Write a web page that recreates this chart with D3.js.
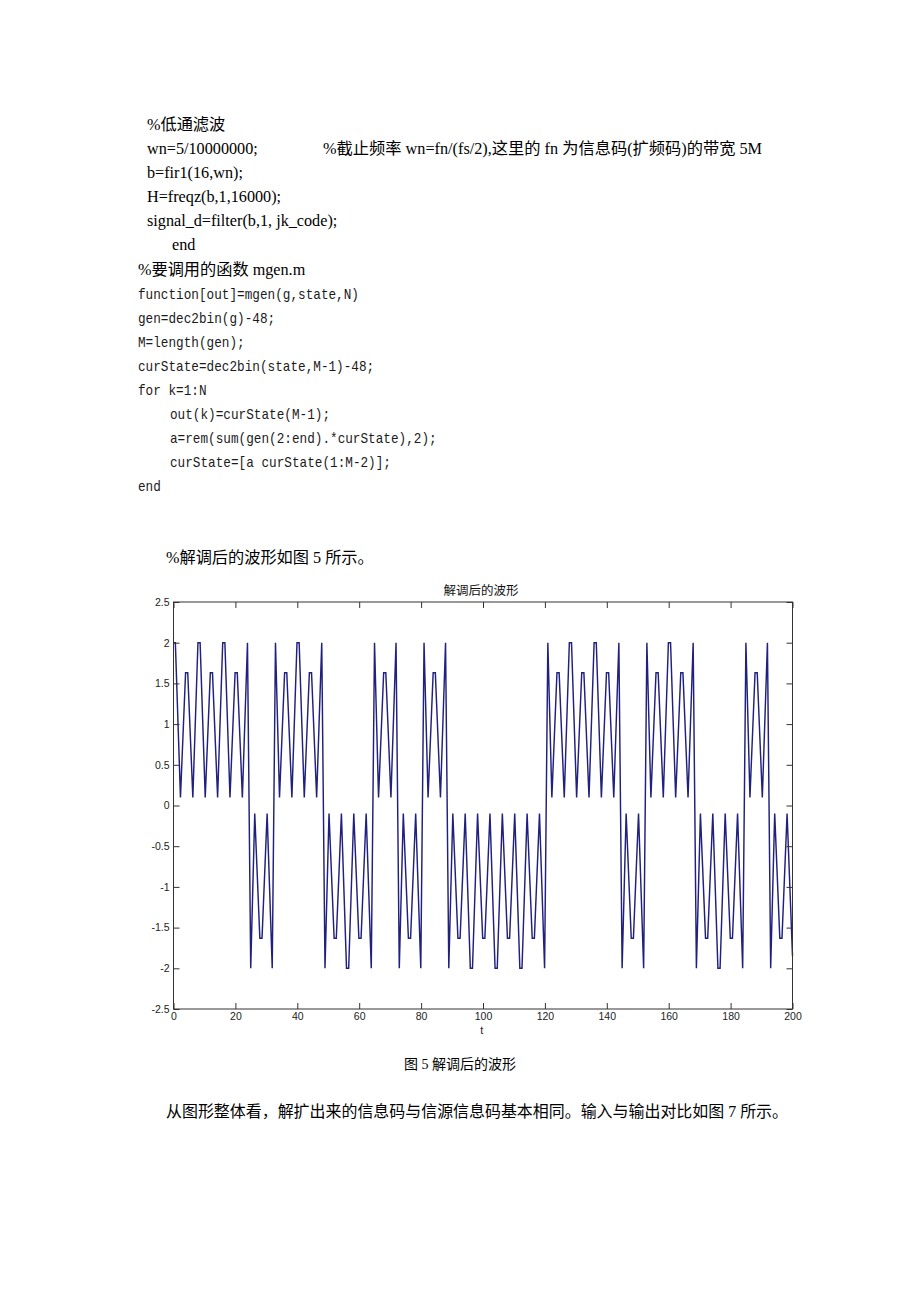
<!DOCTYPE html>
<html>
<head>
<meta charset="utf-8">
<script src="https://cdn.jsdelivr.net/npm/d3@7"></script>
<style>
  body { margin: 0; background: #fff; }
  svg { display: block; }
  .serif { font-family: "Liberation Serif", "Noto Sans CJK SC", serif; font-size: 16.2px; fill: #000; }
  .mono { font-family: "Liberation Mono", "Noto Sans CJK SC", monospace; font-size: 14.2px; fill: #1a1a1a; }
  .cap { font-family: "Liberation Serif", "Noto Sans CJK SC", serif; font-size: 14px; fill: #000; }
  .tick text { font-family: "Liberation Sans", Arial, sans-serif; font-size: 10.5px; fill: #222; }
</style>
</head>
<body>
<svg id="page" width="920" height="1302"></svg>
<script>
// ---------------- data ----------------
const chartTitle = "解调后的波形";
const xLabel = "t";
const xTicks = [0, 20, 40, 60, 80, 100, 120, 140, 160, 180, 200];
const yTicks = [-2.5, -2, -1.5, -1, -0.5, 0, 0.5, 1, 1.5, 2, 2.5];
const xDomain = [0, 200];
const yDomain = [-2.5, 2.5];
// demodulated waveform vertices [t, value]
const wavePoints = [
  [0,2],[0.6,2],[2.25,0.1],
  [3.9,1.63],[4.6,1.63],[6.25,0.1],
  [7.9,2],[8.6,2],[10.25,0.1],
  [11.9,1.63],[12.6,1.63],[14.25,0.1],
  [15.9,2],[16.6,2],[18.25,0.1],
  [19.9,1.63],[20.6,1.63],[22.25,0.1],
  [23.9,2],[24.95,-2],[26.25,-0.1],
  [27.9,-1.63],[28.6,-1.63],[30.25,-0.1],
  [31.9,-2],[32.95,2],[34.25,0.1],
  [35.9,1.63],[36.6,1.63],[38.25,0.1],
  [39.9,2],[40.6,2],[42.25,0.1],
  [43.9,1.63],[44.6,1.63],[46.25,0.1],
  [47.9,2],[48.95,-2],[50.25,-0.1],
  [51.9,-1.63],[52.6,-1.63],[54.25,-0.1],
  [55.9,-2],[56.6,-2],[58.25,-0.1],
  [59.9,-1.63],[60.6,-1.63],[62.25,-0.1],
  [63.9,-2],[64.95,2],[66.25,0.1],
  [67.9,1.63],[68.6,1.63],[70.25,0.1],
  [71.9,2],[72.95,-2],[74.25,-0.1],
  [75.9,-1.63],[76.6,-1.63],[78.25,-0.1],
  [79.9,-2],[80.95,2],[82.25,0.1],
  [83.9,1.63],[84.6,1.63],[86.25,0.1],
  [87.9,2],[88.95,-2],[90.25,-0.1],
  [91.9,-1.63],[92.6,-1.63],[94.25,-0.1],
  [95.9,-2],[96.6,-2],[98.25,-0.1],
  [99.9,-1.63],[100.6,-1.63],[102.25,-0.1],
  [103.9,-2],[104.6,-2],[106.25,-0.1],
  [107.9,-1.63],[108.6,-1.63],[110.25,-0.1],
  [111.9,-2],[112.6,-2],[114.25,-0.1],
  [115.9,-1.63],[116.6,-1.63],[118.25,-0.1],
  [119.9,-2],[120.95,2],[122.25,0.1],
  [123.9,1.63],[124.6,1.63],[126.25,0.1],
  [127.9,2],[128.6,2],[130.25,0.1],
  [131.9,1.63],[132.6,1.63],[134.25,0.1],
  [135.9,2],[136.6,2],[138.25,0.1],
  [139.9,1.63],[140.6,1.63],[142.25,0.1],
  [143.9,2],[144.95,-2],[146.25,-0.1],
  [147.9,-1.63],[148.6,-1.63],[150.25,-0.1],
  [151.9,-2],[152.95,2],[154.25,0.1],
  [155.9,1.63],[156.6,1.63],[158.25,0.1],
  [159.9,2],[160.6,2],[162.25,0.1],
  [163.9,1.63],[164.6,1.63],[166.25,0.1],
  [167.9,2],[168.95,-2],[170.25,-0.1],
  [171.9,-1.63],[172.6,-1.63],[174.25,-0.1],
  [175.9,-2],[176.6,-2],[178.25,-0.1],
  [179.9,-1.63],[180.6,-1.63],[182.25,-0.1],
  [183.9,-2],[184.95,2],[186.25,0.1],
  [187.9,1.63],[188.6,1.63],[190.25,0.1],
  [191.9,2],[192.95,-2],[194.25,-0.1],
  [195.9,-1.63],[196.6,-1.63],[198.25,-0.1],
  [200,-1.85]
];

// ---------------- document text ----------------
const serifLines = [
  {t: "%低通滤波", x: 147, y: 130},
  {t: "wn=5/10000000;", x: 147, y: 154},
  {t: "%截止频率 wn=fn/(fs/2),这里的 fn 为信息码(扩频码)的带宽 5M", x: 323, y: 154, w: 439},
  {t: "b=fir1(16,wn);", x: 147, y: 178},
  {t: "H=freqz(b,1,16000);", x: 147, y: 202},
  {t: "signal_d=filter(b,1, jk_code);", x: 147, y: 226},
  {t: "end", x: 172, y: 250},
  {t: "%要调用的函数 mgen.m", x: 138, y: 274.5},
  {t: "%解调后的波形如图 5 所示。", x: 166, y: 562.5},
  {t: "从图形整体看，解扩出来的信息码与信源信息码基本相同。输入与输出对比如图 7 所示。", x: 166, y: 1116.5, w: 622}
];
const monoLines = [
  {t: "function[out]=mgen(g,state,N)", x: 138, y: 298.5},
  {t: "gen=dec2bin(g)-48;", x: 138, y: 322.5},
  {t: "M=length(gen);", x: 138, y: 346.5},
  {t: "curState=dec2bin(state,M-1)-48;", x: 138, y: 370.5},
  {t: "for k=1:N", x: 138, y: 394.5},
  {t: "out(k)=curState(M-1);", x: 170, y: 418.5},
  {t: "a=rem(sum(gen(2:end).*curState),2);", x: 170, y: 442.5},
  {t: "curState=[a curState(1:M-2)];", x: 170, y: 466.5},
  {t: "end", x: 138, y: 490.5}
];
const caption = {t: "图 5  解调后的波形", x: 460, y: 1069};

const svg = d3.select("#page");

serifLines.forEach(d => {
  const el = svg.append("text").attr("class", "serif").attr("x", d.x).attr("y", d.y).text(d.t);
  if (d.w) el.attr("textLength", d.w).attr("lengthAdjust", "spacingAndGlyphs");
});
monoLines.forEach(d => {
  svg.append("text").attr("class", "mono").attr("x", d.x).attr("y", d.y)
    .attr("textLength", d.t.length * 7.62).attr("lengthAdjust", "spacingAndGlyphs")
    .text(d.t);
});
svg.append("text").attr("class", "cap").attr("x", caption.x).attr("y", caption.y)
  .attr("text-anchor", "middle").text(caption.t);

// ---------------- chart ----------------
const plot = {left: 173.5, right: 792.5, top: 602, bottom: 1009};
const x = d3.scaleLinear().domain(xDomain).range([plot.left, plot.right]);
const y = d3.scaleLinear().domain(yDomain).range([plot.bottom, plot.top]);

const g = svg.append("g");
const fmt = v => String(v);
const tickLen = 6;

g.append("rect")
  .attr("x", plot.left).attr("y", plot.top)
  .attr("width", plot.right - plot.left).attr("height", plot.bottom - plot.top)
  .attr("fill", "#fff");

// waveform
const line = d3.line().x(d => x(d[0])).y(d => y(d[1]));
g.append("path")
  .datum(wavePoints)
  .attr("d", line)
  .attr("fill", "none")
  .attr("stroke", "#20207f")
  .attr("stroke-width", 1.45)
  .attr("stroke-linejoin", "miter");

function styleAxis(sel) {
  sel.selectAll(".domain").remove();
  sel.selectAll(".tick line").attr("stroke", "#333");
}

g.append("g").attr("transform", `translate(0,${plot.bottom})`)
  .call(d3.axisBottom(x).tickValues(xTicks).tickFormat(fmt).tickSizeInner(-tickLen).tickSizeOuter(0).tickPadding(4))
  .call(styleAxis);
g.append("g").attr("transform", `translate(0,${plot.top})`)
  .call(d3.axisTop(x).tickValues(xTicks).tickFormat("").tickSizeInner(-tickLen).tickSizeOuter(0))
  .call(styleAxis);
g.append("g").attr("transform", `translate(${plot.left},0)`)
  .call(d3.axisLeft(y).tickValues(yTicks).tickFormat(fmt).tickSizeInner(-tickLen).tickSizeOuter(0).tickPadding(4))
  .call(styleAxis);
g.append("g").attr("transform", `translate(${plot.right},0)`)
  .call(d3.axisRight(y).tickValues(yTicks).tickFormat("").tickSizeInner(-tickLen).tickSizeOuter(0))
  .call(styleAxis);

g.append("rect")
  .attr("x", plot.left).attr("y", plot.top)
  .attr("width", plot.right - plot.left).attr("height", plot.bottom - plot.top)
  .attr("fill", "none").attr("stroke", "#333").attr("stroke-width", 1);

g.selectAll(".tick text").attr("fill", "#222");

g.append("text")
  .attr("x", (plot.left + plot.right) / 2 - 2).attr("y", 594.5)
  .attr("text-anchor", "middle")
  .style("font-family", "'Noto Sans CJK SC', sans-serif").style("font-size", "12.5px").style("fill", "#111")
  .text(chartTitle);
g.append("text")
  .attr("x", 481.7).attr("y", 1033.5)
  .attr("text-anchor", "middle")
  .style("font-family", "'Liberation Sans', Arial, sans-serif").style("font-size", "11px").style("fill", "#222")
  .text(xLabel);
</script>
</body>
</html>
